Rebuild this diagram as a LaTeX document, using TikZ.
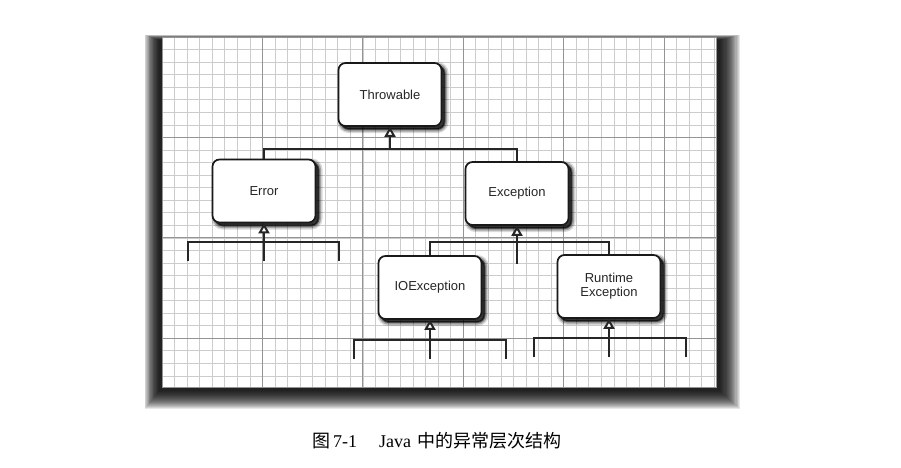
\documentclass[tikz,border=0pt]{standalone}
\usepackage{fontspec}
\setmainfont{Liberation Serif}
\setsansfont{Liberation Sans}
\newfontfamily\cjk{Noto Sans CJK SC}
\usetikzlibrary{arrows.meta,calc}
\begin{document}
\begin{tikzpicture}[x=1pt,y=-1pt,
  cls/.style={draw=black!90, line width=1.7pt, rounded corners=7pt, fill=white,
    minimum width=103pt, minimum height=63pt, inner sep=0pt, align=center,
    font=\sffamily\fontsize{13}{14}\selectfont, text=black!85},
  shd/.style={
    preaction={draw=black,fill=black,line width=8pt,opacity=0.15,transform canvas={shift={(3pt,-3pt)}}},
    preaction={draw=black,fill=black,line width=5pt,opacity=0.25,transform canvas={shift={(3pt,-3pt)}}},
    preaction={draw=black,fill=black,line width=2pt,opacity=0.5,transform canvas={shift={(3pt,-3pt)}}}},
  conn/.style={line width=2pt, draw=black!85},
  inh/.style={line width=2pt, draw=black!85, -{Triangle[width=11pt,length=10pt,fill=white]}},
  minor/.style={draw=black!20, line width=0.6pt},
  major/.style={draw=black!42, line width=0.8pt},
]
\useasboundingbox (0,0) rectangle (901,467);
\fill[white] (0,0) rectangle (901,467);
% panel shadow (soft)
\foreach \r in {0,...,18}
  \fill[black, opacity=0.095] ({159-\r*0.8},{40-\r*0.3}) rectangle ({720+\r*1.1},{391+\r});
% panel
\fill[white] (162,37) rectangle (716,387);
\foreach \i in {0,...,44}
  \draw[minor] ({162+\i*12.55},37) -- ({162+\i*12.55},387);
\foreach \j in {0,...,27}
  \draw[minor] (162,{37+\j*12.55}) -- (716,{37+\j*12.55});
\foreach \i in {0,...,5}
  \draw[major] ({162+\i*100.4},37) -- ({162+\i*100.4},387);
\foreach \j in {0,...,3}
  \draw[major] (162,{37+\j*100.4}) -- (716,{37+\j*100.4});
\draw[major] (162,37) rectangle (716,387);

% classes
\node[cls,shd] (T)  at (390,94.5) {Throwable};
\node[cls,shd] (Er) at (264,191)  {Error};
\node[cls,shd] (Ex) at (517,193.5)  {Exception};
\node[cls,shd] (IO) at (430,287.5) {IOException};
\node[cls,shd] (RT) at (609,286.5)  {Runtime\\Exception};

% Throwable hierarchy
\coordinate (j1) at (T.south |- 0,149);
\draw[conn] (Er.north) |- (j1) -| (Ex.north);
\draw[inh] (j1) -- (T.south);

% Error fork
\coordinate (eL) at (188,261);
\coordinate (eR) at (339,261);
\coordinate (eb) at (Er.south |- 0,242);
\coordinate (e2) at (Er.south |- 0,261);
\draw[conn] (eL) |- (eb) -| (eR);
\draw[inh] (e2) -- (Er.south);

% Exception fork
\coordinate (j3) at (Ex.south |- 0,242);
\coordinate (x2) at (Ex.south |- 0,264);
\draw[conn] (IO.north) |- (j3) -| (RT.north);
\draw[inh] (x2) -- (Ex.south);

% IOException fork
\coordinate (ioL) at (354,359);
\coordinate (ioR) at (506,359);
\coordinate (iob) at (IO.south |- 0,340);
\coordinate (io2) at (IO.south |- 0,359);
\draw[conn] (ioL) |- (iob) -| (ioR);
\draw[inh] (io2) -- (IO.south);

% RuntimeException fork
\coordinate (rtL) at (534,357);
\coordinate (rtR) at (686,357);
\coordinate (rtb) at (RT.south |- 0,338);
\coordinate (rt2) at (RT.south |- 0,357);
\draw[conn] (rtL) |- (rtb) -| (rtR);
\draw[inh] (rt2) -- (RT.south);

% caption
\node[anchor=base west, inner sep=0pt, font=\fontsize{18}{20}\selectfont] (cap) at (312,447)
  {{\cjk 图}\hspace{3pt}7-1\hspace{22pt}Java\hspace{6pt}{\cjk 中的异常层次结构}};
\end{tikzpicture}
\end{document}
